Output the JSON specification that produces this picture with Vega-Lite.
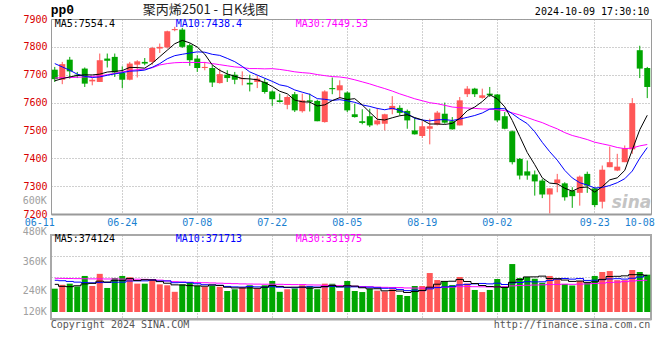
{
"$schema": "https://vega.github.io/schema/vega-lite/v6.json",
"padding": {"left": 0, "top": 0, "right": 0, "bottom": 0},
"background": "white",
"bounds": "flush",
"spacing": 21,
"config": {
  "view": {"stroke": "#9a9a9a", "strokeWidth": 1},
  "axis": {"labelFont": "DejaVu Sans Mono", "labelFontSize": 10, "ticks": false, "tickSize": 0, "domain": false, "gridColor": "#a0a0a0", "gridDash": [1, 2], "title": null, "labelOverlap": false, "labelBound": false, "labelFlush": false}
},
"datasets": {"k": [
{"d":"06-11","o":7718,"h":7728,"l":7674,"c":7684,"m5":7678,"m10":7740,"m30":7688,"v":260000,"v5":297000,"v10":332000,"v30":349000},
{"d":"06-12","o":7682,"h":7746,"l":7666,"c":7738,"m5":7686,"m10":7728,"m30":7689,"v":293000,"v5":280000,"v10":328000,"v30":348000},
{"d":"06-13","o":7754,"h":7764,"l":7686,"c":7712,"m5":7692,"m10":7716,"m30":7690,"v":303000,"v5":277000,"v10":322000,"v30":347000},
{"d":"06-14","o":7700,"h":7710,"l":7688,"c":7696,"m5":7697,"m10":7702,"m30":7691,"v":279000,"v5":285000,"v10":316000,"v30":346000},
{"d":"06-17","o":7722,"h":7726,"l":7656,"c":7668,"m5":7699.6,"m10":7694,"m30":7692,"v":369000,"v5":300800,"v10":312000,"v30":345000},
{"d":"06-18","o":7676,"h":7688,"l":7662,"c":7682,"m5":7699.2,"m10":7690,"m30":7694,"v":283000,"v5":305400,"v10":310000,"v30":344000},
{"d":"06-19","o":7674,"h":7776,"l":7674,"c":7752,"m5":7702,"m10":7692,"m30":7696,"v":387000,"v5":324200,"v10":312000,"v30":344000},
{"d":"06-20","o":7758,"h":7776,"l":7726,"c":7750,"m5":7709.6,"m10":7698,"m30":7700,"v":266000,"v5":316800,"v10":313000,"v30":343000},
{"d":"06-21","o":7764,"h":7776,"l":7692,"c":7708,"m5":7712,"m10":7703,"m30":7705,"v":351000,"v5":331200,"v10":315000,"v30":343000},
{"d":"06-24","o":7706,"h":7730,"l":7652,"c":7682,"m5":7714.8,"m10":7707.2,"m30":7710,"v":369000,"v5":331200,"v10":316000,"v30":342000},
{"d":"06-25","o":7682,"h":7746,"l":7680,"c":7740,"m5":7726.4,"m10":7712.8,"m30":7715,"v":358000,"v5":346200,"v10":325800,"v30":342000},
{"d":"06-26","o":7736,"h":7752,"l":7690,"c":7748,"m5":7725.6,"m10":7713.8,"m30":7718,"v":303000,"v5":329400,"v10":326800,"v30":341000},
{"d":"06-27","o":7746,"h":7760,"l":7734,"c":7740,"m5":7723.6,"m10":7716.6,"m30":7720,"v":303000,"v5":336800,"v10":326800,"v30":340000},
{"d":"06-28","o":7746,"h":7800,"l":7736,"c":7796,"m5":7741.2,"m10":7726.6,"m30":7725,"v":341000,"v5":334800,"v10":333000,"v30":338000},
{"d":"07-01","o":7794,"h":7812,"l":7778,"c":7800,"m5":7764.8,"m10":7739.8,"m30":7735,"v":297000,"v5":320400,"v10":325800,"v30":333000},
{"d":"07-02","o":7798,"h":7858,"l":7794,"c":7856,"m5":7788,"m10":7757.2,"m30":7740,"v":289000,"v5":306600,"v10":326400,"v30":326000},
{"d":"07-03","o":7860,"h":7872,"l":7856,"c":7864,"m5":7811.2,"m10":7768.4,"m30":7743,"v":233000,"v5":292600,"v10":311000,"v30":320000},
{"d":"07-04","o":7862,"h":7868,"l":7796,"c":7800,"m5":7823.2,"m10":7773.4,"m30":7744,"v":297000,"v5":291400,"v10":314100,"v30":317000},
{"d":"07-05","o":7806,"h":7812,"l":7732,"c":7752,"m5":7814.4,"m10":7777.8,"m30":7744,"v":315000,"v5":286200,"v10":310500,"v30":315000},
{"d":"07-08","o":7758,"h":7770,"l":7710,"c":7724,"m5":7799.2,"m10":7782,"m30":7744,"v":285000,"v5":283800,"v10":302100,"v30":313000},
{"d":"07-09","o":7724,"h":7746,"l":7716,"c":7728,"m5":7773.6,"m10":7780.8,"m30":7744,"v":276000,"v5":281200,"v10":293900,"v30":311000},
{"d":"07-10","o":7724,"h":7734,"l":7656,"c":7672,"m5":7735.2,"m10":7773.2,"m30":7740,"v":285000,"v5":291600,"v10":292100,"v30":309000},
{"d":"07-11","o":7670,"h":7722,"l":7668,"c":7702,"m5":7715.6,"m10":7769.4,"m30":7736,"v":276000,"v5":287400,"v10":289400,"v30":307000},
{"d":"07-12","o":7700,"h":7716,"l":7674,"c":7688,"m5":7702.8,"m10":7758.6,"m30":7732,"v":240000,"v5":272400,"v10":279300,"v30":305000},
{"d":"07-15","o":7700,"h":7710,"l":7666,"c":7682,"m5":7694.4,"m10":7746.8,"m30":7728,"v":255000,"v5":266400,"v10":275100,"v30":303000},
{"d":"07-16","o":7684,"h":7712,"l":7662,"c":7688,"m5":7686.4,"m10":7730,"m30":7726,"v":272000,"v5":265600,"v10":273400,"v30":301000},
{"d":"07-17","o":7671,"h":7700,"l":7640,"c":7665,"m5":7685,"m10":7710.1,"m30":7722,"v":289000,"v5":266400,"v10":279000,"v30":300000},
{"d":"07-18","o":7674,"h":7698,"l":7652,"c":7686,"m5":7681.8,"m10":7698.7,"m30":7722,"v":260000,"v5":263200,"v10":275300,"v30":299000},
{"d":"07-19","o":7674,"h":7686,"l":7632,"c":7638,"m5":7671.8,"m10":7687.3,"m30":7721,"v":289000,"v5":273000,"v10":272700,"v30":298000},
{"d":"07-22","o":7640,"h":7644,"l":7588,"c":7612,"m5":7657.8,"m10":7676.1,"m30":7721.8,"v":326000,"v5":287200,"v10":276800,"v30":298300},
{"d":"07-23","o":7608,"h":7632,"l":7600,"c":7602,"m5":7640.6,"m10":7663.5,"m30":7719,"v":233000,"v5":279400,"v10":272500,"v30":297400},
{"d":"07-24","o":7592,"h":7626,"l":7576,"c":7620,"m5":7631.6,"m10":7658.3,"m30":7715.1,"v":255000,"v5":272600,"v10":269500,"v30":296100},
{"d":"07-25","o":7630,"h":7638,"l":7566,"c":7572,"m5":7608.8,"m10":7645.3,"m30":7710.4,"v":262000,"v5":273000,"v10":268100,"v30":294800},
{"d":"07-26","o":7569,"h":7632,"l":7564,"c":7608,"m5":7602.8,"m10":7637.3,"m30":7707.5,"v":289000,"v5":273000,"v10":273000,"v30":295100},
{"d":"07-29","o":7608,"h":7632,"l":7568,"c":7603,"m5":7601.6,"m10":7629.7,"m30":7705.4,"v":283000,"v5":264400,"v10":275800,"v30":292200},
{"d":"07-30","o":7606,"h":7610,"l":7533,"c":7533,"m5":7587.8,"m10":7614.2,"m30":7700.5,"v":255000,"v5":268800,"v10":274100,"v30":291300},
{"d":"07-31","o":7530,"h":7644,"l":7528,"c":7640,"m5":7591.8,"m10":7611.7,"m30":7696.7,"v":303000,"v5":278400,"v10":275500,"v30":288500},
{"d":"08-01","o":7652,"h":7690,"l":7630,"c":7648,"m5":7607,"m10":7607.9,"m30":7693.3,"v":302000,"v5":286400,"v10":279700,"v30":289700},
{"d":"08-02","o":7644,"h":7680,"l":7614,"c":7662,"m5":7617.8,"m10":7610.3,"m30":7691.8,"v":240000,"v5":276600,"v10":274800,"v30":286000},
{"d":"08-05","o":7636,"h":7640,"l":7566,"c":7572,"m5":7611,"m10":7606.3,"m30":7688.1,"v":326000,"v5":285200,"v10":274800,"v30":284600},
{"d":"08-06","o":7558,"h":7595,"l":7546,"c":7548,"m5":7614,"m10":7600.9,"m30":7681.7,"v":240000,"v5":282200,"v10":275500,"v30":280600},
{"d":"08-07","o":7533,"h":7576,"l":7522,"c":7527,"m5":7591.4,"m10":7591.6,"m30":7674.4,"v":231000,"v5":267800,"v10":273100,"v30":278200},
{"d":"08-08","o":7551,"h":7578,"l":7512,"c":7518,"m5":7565.4,"m10":7586.2,"m30":7667,"v":257000,"v5":258800,"v10":272600,"v30":276700},
{"d":"08-09","o":7522,"h":7581,"l":7518,"c":7536,"m5":7540.2,"m10":7579,"m30":7658.3,"v":243000,"v5":259400,"v10":268000,"v30":273400},
{"d":"08-12","o":7524,"h":7560,"l":7500,"c":7558,"m5":7537.4,"m10":7574.2,"m30":7650.2,"v":236000,"v5":241400,"v10":263300,"v30":271400},
{"d":"08-13","o":7575,"h":7623,"l":7558,"c":7588,"m5":7545.4,"m10":7579.7,"m30":7641.3,"v":255000,"v5":244400,"v10":263300,"v30":270300},
{"d":"08-14","o":7581,"h":7590,"l":7554,"c":7563,"m5":7552.6,"m10":7572,"m30":7631.3,"v":206000,"v5":239400,"v10":253600,"v30":269400},
{"d":"08-15","o":7570,"h":7575,"l":7506,"c":7536,"m5":7556.2,"m10":7560.8,"m30":7622.5,"v":197000,"v5":227400,"v10":243100,"v30":266000},
{"d":"08-16","o":7500,"h":7545,"l":7485,"c":7486,"m5":7546.2,"m10":7543.2,"m30":7613.6,"v":283000,"v5":235400,"v10":247400,"v30":265000},
{"d":"08-19","o":7480,"h":7533,"l":7473,"c":7515,"m5":7537.6,"m10":7537.5,"m30":7606.6,"v":283000,"v5":244800,"v10":243100,"v30":264900},
{"d":"08-20","o":7506,"h":7542,"l":7450,"c":7515,"m5":7523,"m10":7534.2,"m30":7599.5,"v":394000,"v5":272600,"v10":258500,"v30":268800},
{"d":"08-21","o":7521,"h":7570,"l":7518,"c":7564,"m5":7523.2,"m10":7537.9,"m30":7595.9,"v":334000,"v5":298200,"v10":268800,"v30":270500},
{"d":"08-22","o":7560,"h":7600,"l":7524,"c":7528,"m5":7521.6,"m10":7538.9,"m30":7590.1,"v":317000,"v5":322200,"v10":274800,"v30":271800},
{"d":"08-23","o":7533,"h":7548,"l":7503,"c":7504,"m5":7525.2,"m10":7535.7,"m30":7584,"v":291000,"v5":323800,"v10":279600,"v30":273500},
{"d":"08-26","o":7518,"h":7620,"l":7518,"c":7608,"m5":7543.8,"m10":7540.7,"m30":7581.5,"v":360000,"v5":339200,"v10":292000,"v30":277000},
{"d":"08-27","o":7630,"h":7659,"l":7620,"c":7650,"m5":7570.8,"m10":7546.9,"m30":7580.3,"v":304000,"v5":321200,"v10":296900,"v30":278100},
{"d":"08-28","o":7650,"h":7653,"l":7620,"c":7630,"m5":7584,"m10":7553.6,"m30":7579.1,"v":249000,"v5":304200,"v10":301200,"v30":276800},
{"d":"08-29","o":7617,"h":7650,"l":7614,"c":7626,"m5":7603.6,"m10":7562.6,"m30":7577.1,"v":231000,"v5":287000,"v10":304600,"v30":275800},
{"d":"08-30","o":7632,"h":7656,"l":7620,"c":7626,"m5":7628,"m10":7576.6,"m30":7576.7,"v":249000,"v5":278600,"v10":301200,"v30":274500},
{"d":"09-02","o":7629,"h":7631,"l":7530,"c":7536,"m5":7613.6,"m10":7578.7,"m30":7574.2,"v":343000,"v5":275200,"v10":307200,"v30":275000},
{"d":"09-03","o":7551,"h":7566,"l":7504,"c":7506,"m5":7584.8,"m10":7577.8,"m30":7571,"v":279000,"v5":270200,"v10":295700,"v30":276600},
{"d":"09-04","o":7497,"h":7500,"l":7378,"c":7386,"m5":7536,"m10":7560,"m30":7563.2,"v":471000,"v5":314600,"v10":309400,"v30":283800},
{"d":"09-05","o":7398,"h":7401,"l":7324,"c":7338,"m5":7478.4,"m10":7541,"m30":7555.4,"v":351000,"v5":338600,"v10":312800,"v30":286700},
{"d":"09-06","o":7353,"h":7392,"l":7323,"c":7338,"m5":7420.8,"m10":7524.4,"m30":7546.4,"v":360000,"v5":360800,"v10":319700,"v30":289100},
{"d":"09-09","o":7342,"h":7356,"l":7266,"c":7317,"m5":7377,"m10":7495.3,"m30":7536.7,"v":345000,"v5":361200,"v10":318200,"v30":291200},
{"d":"09-10","o":7320,"h":7326,"l":7257,"c":7270,"m5":7329.8,"m10":7457.3,"m30":7528,"v":310000,"v5":367400,"v10":318800,"v30":293000},
{"d":"09-11","o":7270,"h":7292,"l":7202,"c":7292,"m5":7311,"m10":7423.5,"m30":7516.4,"v":369000,"v5":347000,"v10":330800,"v30":295200},
{"d":"09-12","o":7310,"h":7344,"l":7278,"c":7324,"m5":7308.2,"m10":7393.3,"m30":7505.6,"v":345000,"v5":345800,"v10":342200,"v30":296600},
{"d":"09-13","o":7310,"h":7314,"l":7248,"c":7260,"m5":7292.6,"m10":7356.7,"m30":7492.2,"v":300000,"v5":333800,"v10":347300,"v30":298600},
{"d":"09-18","o":7284,"h":7296,"l":7222,"c":7264,"m5":7282,"m10":7329.5,"m30":7481.9,"v":287000,"v5":322200,"v10":341700,"v30":297300},
{"d":"09-19","o":7276,"h":7338,"l":7230,"c":7334,"m5":7294.8,"m10":7312.3,"m30":7474.8,"v":326000,"v5":325400,"v10":346400,"v30":299000},
{"d":"09-20","o":7344,"h":7352,"l":7276,"c":7302,"m5":7296.8,"m10":7303.9,"m30":7467.3,"v":313000,"v5":314200,"v10":330600,"v30":301000},
{"d":"09-23","o":7292,"h":7296,"l":7224,"c":7232,"m5":7278.4,"m10":7293.3,"m30":7457.7,"v":369000,"v5":319000,"v10":332400,"v30":304000},
{"d":"09-24","o":7244,"h":7374,"l":7220,"c":7359,"m5":7298.2,"m10":7295.4,"m30":7451.8,"v":403000,"v5":339600,"v10":336700,"v30":308000},
{"d":"09-25","o":7368,"h":7442,"l":7368,"c":7386,"m5":7322.6,"m10":7302.3,"m30":7446.1,"v":411000,"v5":364400,"v10":343300,"v30":313000},
{"d":"09-26","o":7356,"h":7416,"l":7354,"c":7370,"m5":7329.8,"m10":7312.3,"m30":7438.8,"v":333000,"v5":365800,"v10":345600,"v30":316000},
{"d":"09-27","o":7386,"h":7446,"l":7386,"c":7436,"m5":7356.6,"m10":7326.7,"m30":7434.6,"v":333000,"v5":369800,"v10":342000,"v30":320000},
{"d":"09-30","o":7432,"h":7616,"l":7416,"c":7598,"m5":7429.8,"m10":7354.1,"m30":7436.7,"v":420000,"v5":380000,"v10":349500,"v30":326000},
{"d":"10-08","o":7788,"h":7804,"l":7688,"c":7722,"m5":7502.4,"m10":7400.3,"m30":7444.5,"v":403000,"v5":380000,"v10":359800,"v30":329000},
{"d":"10-09","o":7724,"h":7728,"l":7616,"c":7656,"m5":7554.4,"m10":7438.4,"m30":7449.53,"v":380000,"v5":374124,"v10":371713,"v30":331975}
]},
"vconcat": [
{
  "width": 600,
  "height": 195,
  "data": {"name": "k"},
  "encoding": {
    "x": {"field": "d", "type": "ordinal", "scale": {"type": "band", "paddingInner": 0, "paddingOuter": 0},
      "axis": {"values": ["06-11","06-24","07-08","07-22","08-05","08-19","09-02","09-23","10-08"], "bandPosition": 0.5, "labelAngle": 0, "labelColor": "#1a7fd0", "labelPadding": 3,
        "labelAlign": {"condition": {"test": "datum.value === '06-11'", "value": "right"}, "value": "center"},
        "grid": true, "gridOpacity": {"condition": {"test": "datum.value === '06-11' || datum.value === '10-08'", "value": 0}, "value": 1},
        "domain": true, "domainColor": "#9a9a9a", "domainWidth": 2}}
  },
  "layer": [
    {"mark": {"type": "rule", "strokeWidth": 1},
     "encoding": {
       "y": {"field": "l", "type": "quantitative", "scale": {"domain": [7200, 7900], "nice": false, "zero": false},
         "axis": {"values": [7200,7300,7400,7500,7600,7700,7800,7900], "format": "d", "labelColor": "#d80000", "labelPadding": 4, "labelOverlap": false, "grid": true, "minExtent": 50, "maxExtent": 50}},
       "y2": {"field": "h"},
       "color": {"condition": {"test": "datum.c >= datum.o", "value": "#ff5757"}, "value": "#00a600"}}},
    {"mark": {"type": "bar", "width": 6},
     "encoding": {
       "y": {"field": "o", "type": "quantitative", "scale": {"domain": [7200, 7900], "nice": false, "zero": false},
         "axis": {"values": [7200,7300,7400,7500,7600,7700,7800,7900], "format": "d", "labelColor": "#d80000", "labelPadding": 4, "labelOverlap": false, "grid": true, "minExtent": 50, "maxExtent": 50}},
       "y2": {"field": "c"},
       "color": {"condition": {"test": "datum.c >= datum.o", "value": "#ff5757"}, "value": "#00a600"}}},
    {"mark": {"type": "line", "color": "#ff00ff", "strokeWidth": 1},
     "encoding": {"y": {"field": "m30", "type": "quantitative", "scale": {"domain": [7200, 7900], "nice": false, "zero": false},
         "axis": {"values": [7200,7300,7400,7500,7600,7700,7800,7900], "format": "d", "labelColor": "#d80000", "labelPadding": 4, "labelOverlap": false, "grid": true, "minExtent": 50, "maxExtent": 50}}}},
    {"mark": {"type": "line", "color": "#0000ff", "strokeWidth": 1},
     "encoding": {"y": {"field": "m10", "type": "quantitative", "scale": {"domain": [7200, 7900], "nice": false, "zero": false},
         "axis": {"values": [7200,7300,7400,7500,7600,7700,7800,7900], "format": "d", "labelColor": "#d80000", "labelPadding": 4, "labelOverlap": false, "grid": true, "minExtent": 50, "maxExtent": 50}}}},
    {"mark": {"type": "line", "color": "#000000", "strokeWidth": 1},
     "encoding": {"y": {"field": "m5", "type": "quantitative", "scale": {"domain": [7200, 7900], "nice": false, "zero": false},
         "axis": {"values": [7200,7300,7400,7500,7600,7700,7800,7900], "format": "d", "labelColor": "#d80000", "labelPadding": 4, "labelOverlap": false, "grid": true, "minExtent": 50, "maxExtent": 50}}}},
    {"data": {"values": [{}]},
     "mark": {"type": "text", "text": "MA5:7554.4", "align": "left", "baseline": "middle", "font": "DejaVu Sans Mono", "fontSize": 10, "color": "#000000"},
     "encoding": {"x": {"datum": "06-11", "type": "ordinal"}, "y": {"datum": 7882, "type": "quantitative", "scale": {"domain": [7200, 7900], "nice": false, "zero": false},
         "axis": {"values": [7200,7300,7400,7500,7600,7700,7800,7900], "format": "d", "labelColor": "#d80000", "labelPadding": 4, "labelOverlap": false, "grid": true, "minExtent": 50, "maxExtent": 50}}}},
    {"data": {"values": [{}]},
     "mark": {"type": "text", "text": "MA10:7438.4", "align": "left", "baseline": "middle", "font": "DejaVu Sans Mono", "fontSize": 10, "color": "#0000ff", "dx": 1},
     "encoding": {"x": {"datum": "07-03", "type": "ordinal"}, "y": {"datum": 7882, "type": "quantitative", "scale": {"domain": [7200, 7900], "nice": false, "zero": false},
         "axis": {"values": [7200,7300,7400,7500,7600,7700,7800,7900], "format": "d", "labelColor": "#d80000", "labelPadding": 4, "labelOverlap": false, "grid": true, "minExtent": 50, "maxExtent": 50}}}},
    {"data": {"values": [{}]},
     "mark": {"type": "text", "text": "MA30:7449.53", "align": "left", "baseline": "middle", "font": "DejaVu Sans Mono", "fontSize": 10, "color": "#ff00ff", "dx": 1},
     "encoding": {"x": {"datum": "07-25", "type": "ordinal"}, "y": {"datum": 7882, "type": "quantitative", "scale": {"domain": [7200, 7900], "nice": false, "zero": false},
         "axis": {"values": [7200,7300,7400,7500,7600,7700,7800,7900], "format": "d", "labelColor": "#d80000", "labelPadding": 4, "labelOverlap": false, "grid": true, "minExtent": 50, "maxExtent": 50}}}},
    {"data": {"values": [{}]},
     "mark": {"type": "text", "text": "|", "opacity": 0, "align": "left", "baseline": "top", "fontSize": 2},
     "encoding": {"x": {"datum": "06-11", "type": "ordinal"}, "y": {"datum": 7966.4, "type": "quantitative", "scale": {"domain": [7200, 7900], "nice": false, "zero": false},
         "axis": {"values": [7200,7300,7400,7500,7600,7700,7800,7900], "format": "d", "labelColor": "#d80000", "labelPadding": 4, "labelOverlap": false, "grid": true, "minExtent": 50, "maxExtent": 50}}}},
    {"data": {"values": [{}]},
     "mark": {"type": "text", "text": "pp0", "align": "left", "baseline": "alphabetic", "font": "Liberation Mono", "fontWeight": "bold", "fontSize": 13, "color": "#000000", "dx": -4},
     "encoding": {"x": {"datum": "06-11", "type": "ordinal"}, "y": {"datum": 7916.2, "type": "quantitative", "scale": {"domain": [7200, 7900], "nice": false, "zero": false},
         "axis": {"values": [7200,7300,7400,7500,7600,7700,7800,7900], "format": "d", "labelColor": "#d80000", "labelPadding": 4, "labelOverlap": false, "grid": true, "minExtent": 50, "maxExtent": 50}}}},
    {"data": {"values": [{}]},
     "mark": {"type": "text", "text": "聚丙烯2501 - 日K线图", "align": "left", "baseline": "alphabetic", "font": "Noto Sans CJK SC", "fontSize": 13, "color": "#222222", "dx": -2},
     "encoding": {"x": {"datum": "06-27", "type": "ordinal"}, "y": {"datum": 7916.2, "type": "quantitative", "scale": {"domain": [7200, 7900], "nice": false, "zero": false},
         "axis": {"values": [7200,7300,7400,7500,7600,7700,7800,7900], "format": "d", "labelColor": "#d80000", "labelPadding": 4, "labelOverlap": false, "grid": true, "minExtent": 50, "maxExtent": 50}}}},
    {"data": {"values": [{}]},
     "mark": {"type": "text", "text": "2024-10-09 17:30:10", "align": "right", "baseline": "alphabetic", "font": "DejaVu Sans Mono", "fontSize": 10, "color": "#000000", "dx": 2},
     "encoding": {"x": {"datum": "10-09", "type": "ordinal"}, "y": {"datum": 7912.6, "type": "quantitative", "scale": {"domain": [7200, 7900], "nice": false, "zero": false},
         "axis": {"values": [7200,7300,7400,7500,7600,7700,7800,7900], "format": "d", "labelColor": "#d80000", "labelPadding": 4, "labelOverlap": false, "grid": true, "minExtent": 50, "maxExtent": 50}}}},
    {"data": {"values": [{}]},
     "mark": {"type": "text", "text": "600K", "align": "right", "baseline": "middle", "font": "DejaVu Sans Mono", "fontSize": 10, "color": "#a0a0a0", "dx": -8},
     "encoding": {"x": {"datum": "06-11", "type": "ordinal"}, "y": {"datum": 7245, "type": "quantitative", "scale": {"domain": [7200, 7900], "nice": false, "zero": false},
         "axis": {"values": [7200,7300,7400,7500,7600,7700,7800,7900], "format": "d", "labelColor": "#d80000", "labelPadding": 4, "labelOverlap": false, "grid": true, "minExtent": 50, "maxExtent": 50}}}},
    {"data": {"values": [{}]},
     "mark": {"type": "text", "text": "sina", "align": "right", "baseline": "middle", "font": "DejaVu Sans", "fontWeight": "bold", "fontStyle": "italic", "fontSize": 17, "color": "#c4c4c4", "dx": 4},
     "encoding": {"x": {"datum": "10-09", "type": "ordinal"}, "y": {"datum": 7240, "type": "quantitative", "scale": {"domain": [7200, 7900], "nice": false, "zero": false},
         "axis": {"values": [7200,7300,7400,7500,7600,7700,7800,7900], "format": "d", "labelColor": "#d80000", "labelPadding": 4, "labelOverlap": false, "grid": true, "minExtent": 50, "maxExtent": 50}}}}
  ]
},
{
  "width": 600,
  "height": 84,
  "view": {"stroke": "#a8a8a8", "strokeWidth": 2},
  "data": {"name": "k"},
  "encoding": {
    "x": {"field": "d", "type": "ordinal", "scale": {"type": "band", "paddingInner": 0, "paddingOuter": 0},
      "axis": {"values": ["06-11","06-24","07-08","07-22","08-05","08-19","09-02","09-23","10-08"], "bandPosition": 0.5, "labels": false,
        "grid": true, "gridOpacity": {"condition": {"test": "datum.value === '06-11' || datum.value === '10-08'", "value": 0}, "value": 1},
        "domain": true, "domainColor": "#a8a8a8", "domainWidth": 2}}
  },
  "layer": [
    {"mark": {"type": "bar", "width": 6},
     "encoding": {
       "y": {"field": "v", "type": "quantitative", "scale": {"domain": [0, 720000], "nice": false, "zero": false},
         "axis": {"values": [180000, 360000, 540000], "labels": false, "grid": true, "minExtent": 50, "maxExtent": 50}},
       "y2": {"datum": 60000},
       "color": {"condition": {"test": "datum.c >= datum.o", "value": "#ff5757"}, "value": "#00a600"}}},
    {"mark": {"type": "line", "color": "#ff00ff", "strokeWidth": 1, "interpolate": "step"},
     "encoding": {"y": {"field": "v30", "type": "quantitative", "scale": {"domain": [0, 720000], "nice": false, "zero": false},
         "axis": {"values": [180000, 360000, 540000], "labels": false, "grid": true, "minExtent": 50, "maxExtent": 50}}}},
    {"mark": {"type": "line", "color": "#0000ff", "strokeWidth": 1, "interpolate": "step"},
     "encoding": {"y": {"field": "v10", "type": "quantitative", "scale": {"domain": [0, 720000], "nice": false, "zero": false},
         "axis": {"values": [180000, 360000, 540000], "labels": false, "grid": true, "minExtent": 50, "maxExtent": 50}}}},
    {"mark": {"type": "line", "color": "#000000", "strokeWidth": 1, "interpolate": "step"},
     "encoding": {"y": {"field": "v5", "type": "quantitative", "scale": {"domain": [0, 720000], "nice": false, "zero": false},
         "axis": {"values": [180000, 360000, 540000], "labels": false, "grid": true, "minExtent": 50, "maxExtent": 50}}}},
    {"data": {"values": [{}]},
     "mark": {"type": "text", "text": "MA5:374124", "align": "left", "baseline": "middle", "font": "DejaVu Sans Mono", "fontSize": 10, "color": "#000000"},
     "encoding": {"x": {"datum": "06-11", "type": "ordinal"}, "y": {"datum": 683000, "type": "quantitative", "scale": {"domain": [0, 720000], "nice": false, "zero": false},
         "axis": {"values": [180000, 360000, 540000], "labels": false, "grid": true, "minExtent": 50, "maxExtent": 50}}}},
    {"data": {"values": [{}]},
     "mark": {"type": "text", "text": "MA10:371713", "align": "left", "baseline": "middle", "font": "DejaVu Sans Mono", "fontSize": 10, "color": "#0000ff", "dx": 1},
     "encoding": {"x": {"datum": "07-03", "type": "ordinal"}, "y": {"datum": 683000, "type": "quantitative", "scale": {"domain": [0, 720000], "nice": false, "zero": false},
         "axis": {"values": [180000, 360000, 540000], "labels": false, "grid": true, "minExtent": 50, "maxExtent": 50}}}},
    {"data": {"values": [{}]},
     "mark": {"type": "text", "text": "MA30:331975", "align": "left", "baseline": "middle", "font": "DejaVu Sans Mono", "fontSize": 10, "color": "#ff00ff", "dx": 1},
     "encoding": {"x": {"datum": "07-25", "type": "ordinal"}, "y": {"datum": 683000, "type": "quantitative", "scale": {"domain": [0, 720000], "nice": false, "zero": false},
         "axis": {"values": [180000, 360000, 540000], "labels": false, "grid": true, "minExtent": 50, "maxExtent": 50}}}},
    {"data": {"values": [{}]},
     "mark": {"type": "text", "text": "480K", "align": "right", "baseline": "middle", "font": "DejaVu Sans Mono", "fontSize": 10, "color": "#a0a0a0", "dx": -8},
     "encoding": {"x": {"datum": "06-11", "type": "ordinal"}, "y": {"datum": 748000, "type": "quantitative", "scale": {"domain": [0, 720000], "nice": false, "zero": false},
         "axis": {"values": [180000, 360000, 540000], "labels": false, "grid": true, "minExtent": 50, "maxExtent": 50}}}},
    {"data": {"values": [{}]},
     "mark": {"type": "text", "text": "360K", "align": "right", "baseline": "middle", "font": "DejaVu Sans Mono", "fontSize": 10, "color": "#a0a0a0", "dx": -8},
     "encoding": {"x": {"datum": "06-11", "type": "ordinal"}, "y": {"datum": 491000, "type": "quantitative", "scale": {"domain": [0, 720000], "nice": false, "zero": false},
         "axis": {"values": [180000, 360000, 540000], "labels": false, "grid": true, "minExtent": 50, "maxExtent": 50}}}},
    {"data": {"values": [{}]},
     "mark": {"type": "text", "text": "240K", "align": "right", "baseline": "middle", "font": "DejaVu Sans Mono", "fontSize": 10, "color": "#a0a0a0", "dx": -8},
     "encoding": {"x": {"datum": "06-11", "type": "ordinal"}, "y": {"datum": 240000, "type": "quantitative", "scale": {"domain": [0, 720000], "nice": false, "zero": false},
         "axis": {"values": [180000, 360000, 540000], "labels": false, "grid": true, "minExtent": 50, "maxExtent": 50}}}},
    {"data": {"values": [{}]},
     "mark": {"type": "text", "text": "120K", "align": "right", "baseline": "middle", "font": "DejaVu Sans Mono", "fontSize": 10, "color": "#a0a0a0", "dx": -8},
     "encoding": {"x": {"datum": "06-11", "type": "ordinal"}, "y": {"datum": 62600, "type": "quantitative", "scale": {"domain": [0, 720000], "nice": false, "zero": false},
         "axis": {"values": [180000, 360000, 540000], "labels": false, "grid": true, "minExtent": 50, "maxExtent": 50}}}},
    {"data": {"values": [{}]},
     "mark": {"type": "text", "text": "Copyright 2024 SINA.COM", "align": "left", "baseline": "middle", "font": "DejaVu Sans Mono", "fontSize": 10, "color": "#555555", "dx": -4},
     "encoding": {"x": {"datum": "06-11", "type": "ordinal"}, "y": {"datum": -49000, "type": "quantitative", "scale": {"domain": [0, 720000], "nice": false, "zero": false},
         "axis": {"values": [180000, 360000, 540000], "labels": false, "grid": true, "minExtent": 50, "maxExtent": 50}}}},
    {"data": {"values": [{}]},
     "mark": {"type": "text", "text": "http://finance.sina.com.cn", "align": "right", "baseline": "middle", "font": "DejaVu Sans Mono", "fontSize": 10, "color": "#555555", "dx": 3},
     "encoding": {"x": {"datum": "10-09", "type": "ordinal"}, "y": {"datum": -49000, "type": "quantitative", "scale": {"domain": [0, 720000], "nice": false, "zero": false},
         "axis": {"values": [180000, 360000, 540000], "labels": false, "grid": true, "minExtent": 50, "maxExtent": 50}}}}
  ]
}
]
}
